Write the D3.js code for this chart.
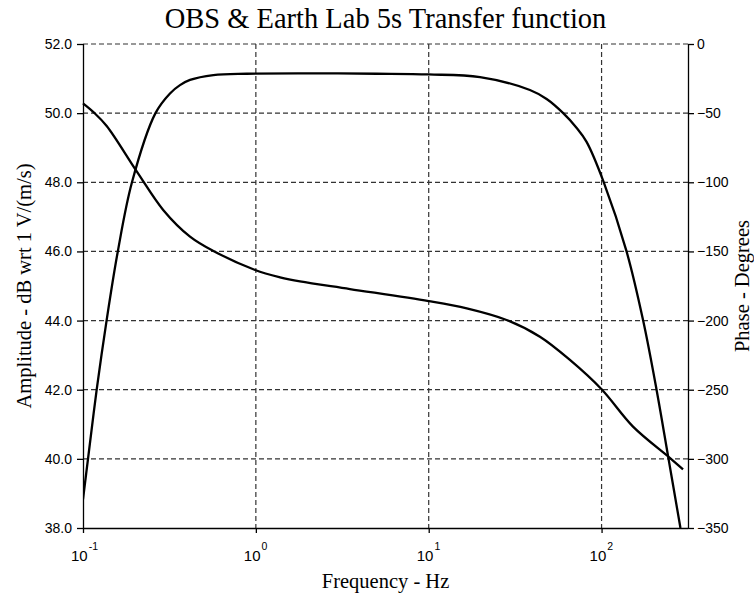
<!DOCTYPE html>
<html>
<head>
<meta charset="utf-8">
<script src="https://cdn.jsdelivr.net/npm/d3@7"></script>
<style>
  body { margin: 0; background: #fff; }
  .grid line { stroke: #333; stroke-dasharray: 5,3; stroke-width: 1.2; }
  .tick text { font-family: "Liberation Sans", Arial, sans-serif; font-size: 14px; fill: #000; }
</style>
</head>
<body>
<script>
// amplitude response (Hz, dB)
var ampFreq = [0.1, 0.1069, 0.12, 0.1369, 0.159, 0.192, 0.2626, 0.3186, 0.364, 0.416, 0.568, 0.886, 2, 5, 10, 19.8, 38.5, 48.1, 60, 71.6, 81.9, 103, 139.5, 174, 208, 244, 286];
var ampDb   = [38.83, 40.0, 42.0, 44.0, 46.0, 48.0, 50.0, 50.57, 50.81, 50.96, 51.10, 51.14, 51.15, 51.14, 51.12, 51.04, 50.67, 50.41, 50.0, 49.58, 49.17, 48.0, 46.0, 44.0, 42.0, 40.0, 38.0];

// phase response (Hz, degrees)
var phFreq = [0.1, 0.1153, 0.1371, 0.205, 0.291, 0.416, 0.568, 0.99, 1.38, 1.8, 3.5, 10, 16.6, 28.2, 44, 65.6, 100, 152, 250, 296];
var phDeg  = [-42.9, -49.4, -59.3, -92.3, -120, -139.3, -149.7, -163.4, -168.7, -171.7, -177.2, -185.9, -191.2, -199.6, -211.7, -228.5, -249.7, -276.7, -299.6, -307.6];

var xTicks = [0.1, 1, 10, 100];
var xExp = ["-1", "0", "1", "2"];
var ampTicks = [38, 40, 42, 44, 46, 48, 50, 52];
var phTicks = [0, -50, -100, -150, -200, -250, -300, -350];

var W = 754, H = 596;
var plotL = 83, plotT = 44, plotR = 688, plotB = 528;

var svg = d3.select("body").append("svg")
    .attr("width", W)
    .attr("height", H);

var x = d3.scaleLog().domain([0.1, Math.pow(10, 2.5)]).range([plotL, plotR]);
var yAmp = d3.scaleLinear().domain([38, 52]).range([plotB, plotT]);
var yPh = d3.scaleLinear().domain([-350, 0]).range([plotB, plotT]);

// grid
var grid = svg.append("g").attr("class", "grid");
grid.selectAll("line.h")
    .data(ampTicks.filter(function (d) { return d > 38; }))
    .enter().append("line")
    .attr("x1", plotL).attr("x2", plotR)
    .attr("y1", function (d) { return yAmp(d); })
    .attr("y2", function (d) { return yAmp(d); });
grid.selectAll("line.v")
    .data(xTicks.filter(function (d) { return d > 0.1; }))
    .enter().append("line")
    .attr("y1", plotT).attr("y2", plotB)
    .attr("x1", function (d) { return x(d); })
    .attr("x2", function (d) { return x(d); });

// axes
var yAxisL = d3.axisLeft(yAmp).tickValues(ampTicks).tickSize(6).tickPadding(5)
    .tickFormat(d3.format(".1f"));
svg.append("g").attr("transform", "translate(" + plotL + ",0)").call(yAxisL)
    .call(function (g) { g.select(".domain").attr("d", "M0.5," + plotT + "V" + plotB); });

var yAxisR = d3.axisRight(yPh).tickValues(phTicks).tickSize(6).tickPadding(3)
    .tickFormat(d3.format("d"));
svg.append("g").attr("transform", "translate(" + plotR + ",0)").call(yAxisR)
    .call(function (g) { g.select(".domain").attr("d", "M0.5," + plotT + "V" + plotB); });

var xAxis = d3.axisBottom(x).tickValues(xTicks).tickSize(5).tickFormat("");
var xg = svg.append("g").attr("transform", "translate(0," + plotB + ")").call(xAxis);
xg.select(".domain").attr("d", "M" + plotL + ",0.5H" + plotR);
svg.selectAll(".domain, .tick line").attr("stroke", "#000").attr("stroke-width", 1.3);

// x tick labels 10^n
var xl = svg.append("g").selectAll("text")
    .data(xTicks)
    .enter().append("text")
    .attr("x", function (d) { return x(d) - 12; })
    .attr("y", 561)
    .style("font-family", "Liberation Sans, Arial, sans-serif")
    .style("font-size", "15px");
xl.append("tspan").text("10");
xl.append("tspan")
    .attr("dx", 1)
    .attr("dy", -11)
    .style("font-size", "10.5px")
    .text(function (d, i) { return xExp[i]; });

// curves
svg.append("clipPath").attr("id", "plot")
    .append("rect").attr("x", plotL).attr("y", plotT - 2)
    .attr("width", plotR - plotL).attr("height", plotB - plotT + 2);

var ampData = ampFreq.map(function (f, i) { return [f, ampDb[i]]; });
var phData = phFreq.map(function (f, i) { return [f, phDeg[i]]; });

var ampLine = d3.line()
    .x(function (d) { return x(d[0]); })
    .y(function (d) { return yAmp(d[1]); })
    .curve(d3.curveCatmullRom.alpha(0.5));
var phLine = d3.line()
    .x(function (d) { return x(d[0]); })
    .y(function (d) { return yPh(d[1]); })
    .curve(d3.curveCatmullRom.alpha(0.5));

svg.append("path").datum(ampData)
    .attr("d", ampLine)
    .attr("clip-path", "url(#plot)")
    .attr("fill", "none").attr("stroke", "#000").attr("stroke-width", 2.3);
svg.append("path").datum(phData)
    .attr("d", phLine)
    .attr("fill", "none").attr("stroke", "#000").attr("stroke-width", 2.3);

// titles
svg.append("text")
    .attr("x", (plotL + plotR) / 2).attr("y", 28)
    .attr("text-anchor", "middle")
    .style("font-family", "Liberation Serif, serif")
    .style("font-size", "28.5px")
    .text("OBS & Earth Lab 5s Transfer function");

svg.append("text")
    .attr("x", (plotL + plotR) / 2).attr("y", 588)
    .attr("text-anchor", "middle")
    .style("font-family", "Liberation Serif, serif")
    .style("font-size", "20.5px")
    .text("Frequency - Hz");

svg.append("text")
    .attr("transform", "translate(31," + (plotT + plotB) / 2 + ") rotate(-90)")
    .attr("text-anchor", "middle")
    .style("font-family", "Liberation Serif, serif")
    .style("font-size", "20.5px")
    .text("Amplitude - dB wrt 1 V/(m/s)");

svg.append("text")
    .attr("transform", "translate(749," + (plotT + plotB) / 2 + ") rotate(-90)")
    .attr("text-anchor", "middle")
    .style("font-family", "Liberation Serif, serif")
    .style("font-size", "20.5px")
    .text("Phase - Degrees");
</script>
</body>
</html>
